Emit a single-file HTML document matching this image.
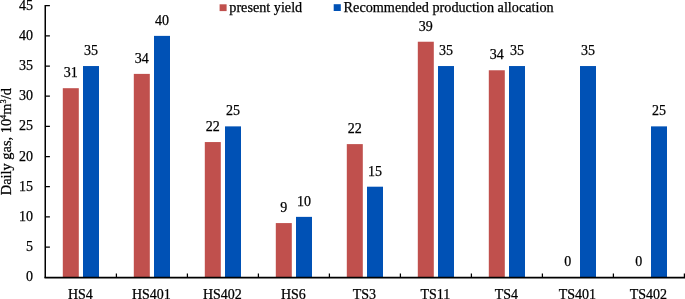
<!DOCTYPE html><html><head><meta charset="utf-8"><style>html,body{margin:0;padding:0;background:#fff;overflow:hidden;}svg{display:block;will-change:transform;}text{font-family:"Liberation Serif", serif;font-size:14px;fill:#000;stroke:#000;stroke-width:0.25px;}</style></head><body>
<svg width="685" height="299" viewBox="0 0 685 299">
<rect x="62.80" y="88.19" width="16.0" height="189.41" fill="#C0504D"/>
<rect x="83.00" y="66.04" width="16.0" height="211.56" fill="#0051B5"/>
<text x="70.80" y="77.19" text-anchor="middle">31</text>
<text x="91.00" y="55.04" text-anchor="middle">35</text>
<text x="80.40" y="299.2" text-anchor="middle">HS4</text>
<rect x="133.80" y="73.89" width="16.0" height="203.71" fill="#C0504D"/>
<rect x="154.00" y="35.88" width="16.0" height="241.72" fill="#0051B5"/>
<text x="141.80" y="62.89" text-anchor="middle">34</text>
<text x="162.00" y="24.88" text-anchor="middle">40</text>
<text x="151.40" y="299.2" text-anchor="middle">HS401</text>
<rect x="204.80" y="142.06" width="16.0" height="135.54" fill="#C0504D"/>
<rect x="225.00" y="126.37" width="16.0" height="151.23" fill="#0051B5"/>
<text x="212.80" y="131.06" text-anchor="middle">22</text>
<text x="233.00" y="115.37" text-anchor="middle">25</text>
<text x="222.40" y="299.2" text-anchor="middle">HS402</text>
<rect x="275.80" y="223.08" width="16.0" height="54.52" fill="#C0504D"/>
<rect x="296.00" y="216.87" width="16.0" height="60.73" fill="#0051B5"/>
<text x="283.80" y="212.08" text-anchor="middle">9</text>
<text x="304.00" y="205.87" text-anchor="middle">10</text>
<text x="293.40" y="299.2" text-anchor="middle">HS6</text>
<rect x="346.80" y="144.11" width="16.0" height="133.49" fill="#C0504D"/>
<rect x="367.00" y="186.70" width="16.0" height="90.90" fill="#0051B5"/>
<text x="354.80" y="133.11" text-anchor="middle">22</text>
<text x="375.00" y="175.70" text-anchor="middle">15</text>
<text x="364.40" y="299.2" text-anchor="middle">TS3</text>
<rect x="417.80" y="41.73" width="16.0" height="235.87" fill="#C0504D"/>
<rect x="438.00" y="66.04" width="16.0" height="211.56" fill="#0051B5"/>
<text x="425.80" y="30.73" text-anchor="middle">39</text>
<text x="446.00" y="55.04" text-anchor="middle">35</text>
<text x="435.40" y="299.2" text-anchor="middle">TS11</text>
<rect x="488.80" y="70.27" width="16.0" height="207.33" fill="#C0504D"/>
<rect x="509.00" y="66.04" width="16.0" height="211.56" fill="#0051B5"/>
<text x="496.80" y="59.27" text-anchor="middle">34</text>
<text x="517.00" y="55.04" text-anchor="middle">35</text>
<text x="506.40" y="299.2" text-anchor="middle">TS4</text>
<rect x="580.00" y="66.04" width="16.0" height="211.56" fill="#0051B5"/>
<text x="567.80" y="266.20" text-anchor="middle">0</text>
<text x="588.00" y="55.04" text-anchor="middle">35</text>
<text x="577.40" y="299.2" text-anchor="middle">TS401</text>
<rect x="651.00" y="126.37" width="16.0" height="151.23" fill="#0051B5"/>
<text x="638.80" y="266.20" text-anchor="middle">0</text>
<text x="659.00" y="115.37" text-anchor="middle">25</text>
<text x="648.40" y="299.2" text-anchor="middle">TS402</text>
<path d="M45.25 5.11V278.1" fill="none" stroke="#000" stroke-width="1.5"/>
<path d="M44.50 277.6H685" fill="none" stroke="#000" stroke-width="1.6"/>
<text x="33" y="281.30" text-anchor="end">0</text>
<text x="33" y="251.13" text-anchor="end">5</text>
<text x="33" y="220.97" text-anchor="end">10</text>
<text x="33" y="190.80" text-anchor="end">15</text>
<text x="33" y="160.64" text-anchor="end">20</text>
<text x="33" y="130.47" text-anchor="end">25</text>
<text x="33" y="100.31" text-anchor="end">30</text>
<text x="33" y="70.14" text-anchor="end">35</text>
<text x="33" y="39.98" text-anchor="end">40</text>
<text x="33" y="9.81" text-anchor="end">45</text>
<path d="M45.25 247.03H49.9M45.25 216.87H49.9M45.25 186.70H49.9M45.25 156.54H49.9M45.25 126.37H49.9M45.25 96.21H49.9M45.25 66.04H49.9M45.25 35.88H49.9M45.25 5.71H49.9M116.40 277.6V273.4M187.40 277.6V273.4M258.40 277.6V273.4M329.40 277.6V273.4M400.40 277.6V273.4M471.40 277.6V273.4M542.40 277.6V273.4M613.40 277.6V273.4M684.40 277.6V273.4" fill="none" stroke="#000" stroke-width="1.25"/>
<text transform="translate(11.2,141.7) rotate(-90)" text-anchor="middle" style="font-size:14.4px">Daily gas, 10<tspan style="font-size:8.3px" dy="-5.2">4</tspan><tspan dy="5.2">m</tspan><tspan style="font-size:8.3px" dy="-5.2">3</tspan><tspan dy="5.2">/d</tspan></text>
<rect x="219.6" y="4.3" width="7" height="6.8" fill="#C0504D"/>
<text x="229.3" y="12.1" style="font-size:14.2px">present yield</text>
<rect x="333.7" y="4.2" width="7.1" height="6.8" fill="#0051B5"/>
<text x="343.6" y="12" style="font-size:14.22px">Recommended production allocation</text>
</svg></body></html>
